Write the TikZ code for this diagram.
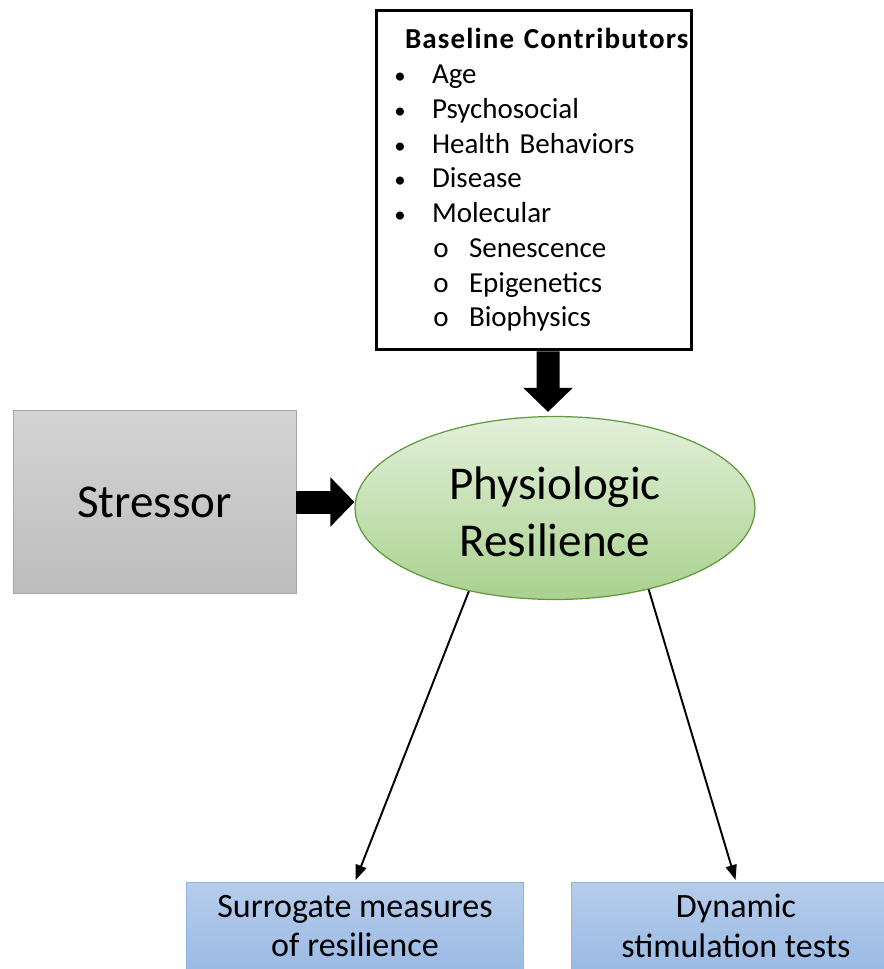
\documentclass[tikz,border=0pt]{standalone}
\usepackage{fontspec}
\setmainfont{Carlito}
\usetikzlibrary{arrows.meta, shapes.geometric, positioning}
\definecolor{stresstop}{HTML}{D4D4D4}
\definecolor{stressbot}{HTML}{BDBDBD}
\definecolor{stressline}{HTML}{A6A6A6}
\definecolor{coretop}{HTML}{E3F0DA}
\definecolor{corebot}{HTML}{A9D18E}
\definecolor{coreline}{HTML}{5F9A3B}
\definecolor{meastop}{HTML}{B6CDEB}
\definecolor{measbot}{HTML}{9BBAE4}
\definecolor{measline}{HTML}{8FB4E3}
\newcommand{\blt}[1]{\hspace*{0.47cm}\makebox[0pt]{\fontsize{13}{13}\selectfont\textbullet}\hspace*{0.64cm}#1}
\newcommand{\sbl}[1]{\hspace*{1.29cm}\makebox[0pt]{o}\hspace*{0.56cm}#1}

\begin{document}
\begin{tikzpicture}[x=0.02cm, y=-0.02cm, shorten >=1pt,
    listbox/.style={rectangle, draw, line width=0.06cm, minimum width=6.30cm, minimum height=6.80cm, inner xsep=0pt, text width=6.30cm, align=left, font=\fontsize{16.5}{19.8}\selectfont},
    stressbox/.style={rectangle, draw=stressline, top color=stresstop, bottom color=stressbot, minimum width=5.66cm, minimum height=3.66cm, font=\fontsize{26.8}{32}\selectfont},
    core/.style={ellipse, draw=coreline, line width=0.7pt, top color=coretop, bottom color=corebot, inner sep=0pt, minimum width=8cm, minimum height=3.66cm, align=center, font=\fontsize{26.8}{32.3}\selectfont},
    measure/.style={rectangle, draw=measline, top color=meastop, bottom color=measbot, minimum height=1.76cm, align=center, font=\fontsize{19.4}{22.7}\selectfont},
    fat/.style={line width=0.46cm, shorten >=0pt, -{Triangle[width=0.96cm, length=0.48cm]}},
    thin/.style={line width=1.1pt, -{Triangle[width=0.22cm, length=0.3cm]}}]

    \useasboundingbox (0,0) rectangle (884,969);

    \node[listbox] (base) at (534,180) {\hspace*{0.57cm}{\bfseries\addfontfeature{LetterSpace=4}Baseline Contributors}\\
        \blt{Age}\\
        \blt{Psychosocial}\\
        \blt{Health Behaviors}\\
        \blt{Disease}\\
        \blt{Molecular}\\
        \sbl{Senescence}\\
        \sbl{Epigenetics}\\
        \sbl{Biophysics}};
    \node[core] (resil) at (555,508) {\\[-9.5pt]Physiologic\\Resilience};
    \node[stressbox] (stress) at (154.5,502) {Stressor};
    \node[measure, minimum width=6.74cm] (surr) at (355,926) {Surrogate measures\\of resilience};
    \node[measure, minimum width=6.6cm] (dyn) at (736,926) {Dynamic\\stimulation tests};

    \draw[fat, shorten >=0.08cm] ([xshift=0.28cm]base.south) -- ([xshift=-0.14cm]resil.north);
    \draw[fat] (stress.east) -- (stress.east -| resil.west);

    \path[thin]
    (resil.224) edge (surr.north)
    (resil.319) edge (dyn.north)
    ;

\end{tikzpicture}
\end{document}
